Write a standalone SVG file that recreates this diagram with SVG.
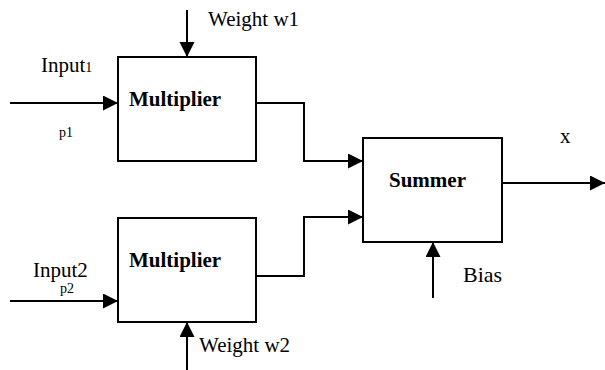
<svg xmlns="http://www.w3.org/2000/svg" width="605" height="370" viewBox="0 0 605 370">
  <style>
    .box { fill: #fff; stroke: #000; stroke-width: 2; }
    .wire { fill: none; stroke: #000; stroke-width: 2; }
    .lbl { font-family: "Liberation Serif", "Times New Roman", serif; font-size: 21px; fill: #000; }
    .small { font-family: "Liberation Serif", "Times New Roman", serif; font-size: 14px; fill: #000; }
    .bold { font-family: "Liberation Serif", "Times New Roman", serif; font-size: 21px; font-weight: bold; fill: #000; }
  </style>
  <defs>
    <marker id="arrow" markerWidth="16" markerHeight="16" refX="15" refY="7.5" orient="auto" markerUnits="userSpaceOnUse">
      <path d="M0,0 L15,7.5 L0,15 Z" fill="#000"/>
    </marker>
  </defs>
  <rect width="605" height="370" fill="#fff"/>

  <g id="connectors">
    <line class="wire" x1="10" y1="103" x2="118" y2="103" marker-end="url(#arrow)"/>
    <line class="wire" x1="187" y1="10" x2="187" y2="57" marker-end="url(#arrow)"/>
    <line class="wire" x1="10" y1="301" x2="118" y2="301" marker-end="url(#arrow)"/>
    <line class="wire" x1="187" y1="370" x2="187" y2="322" marker-end="url(#arrow)"/>
    <polyline class="wire" points="256,103 304,103 304,161 363,161" marker-end="url(#arrow)"/>
    <polyline class="wire" points="256,276 304,276 304,217 363,217" marker-end="url(#arrow)"/>
    <line class="wire" x1="502" y1="183" x2="605" y2="183" marker-end="url(#arrow)"/>
    <line class="wire" x1="433" y1="298" x2="433" y2="242" marker-end="url(#arrow)"/>
  </g>

  <g id="multiplier1">
    <rect class="box" x="118" y="57" width="138" height="104"/>
    <text class="bold" x="129" y="106">Multiplier</text>
  </g>
  <g id="multiplier2">
    <rect class="box" x="118" y="218" width="138" height="104"/>
    <text class="bold" x="129" y="267">Multiplier</text>
  </g>
  <g id="summer">
    <rect class="box" x="363" y="138" width="139" height="104"/>
    <text class="bold" x="389" y="187">Summer</text>
  </g>

  <g id="labels">
    <text class="lbl" x="208" y="26">Weight w1</text>
    <text class="lbl" x="41" y="72">Input<tspan class="small">1</tspan></text>
    <text class="small" x="59" y="137">p1</text>
    <text class="lbl" x="33" y="277">Input2</text>
    <text class="small" x="60" y="293">p2</text>
    <text class="lbl" x="199" y="352">Weight w2</text>
    <text class="lbl" x="560" y="143">x</text>
    <text class="lbl" x="463" y="282" style="font-size:22px">Bias</text>
  </g>
</svg>
